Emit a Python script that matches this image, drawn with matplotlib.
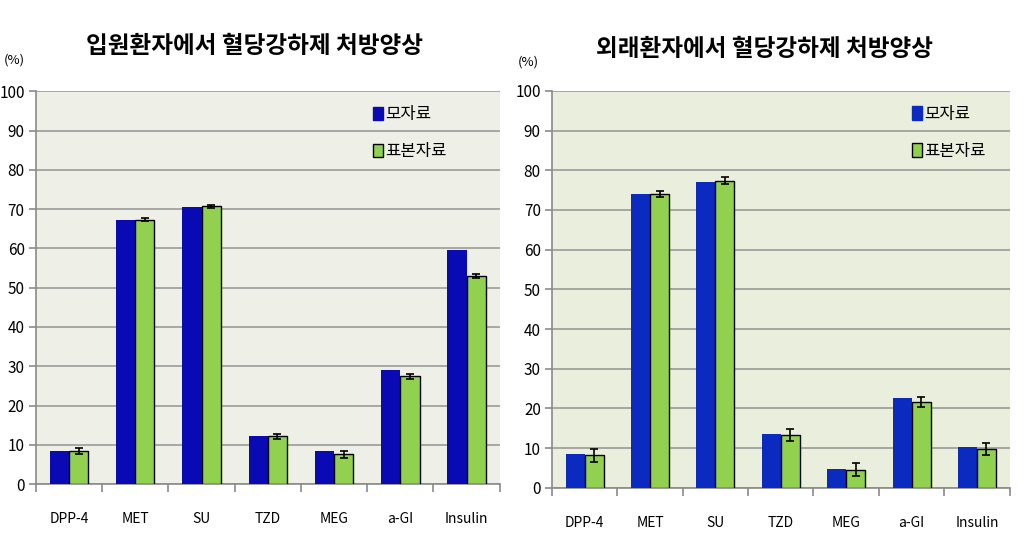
import numpy as np
import matplotlib
matplotlib.use("Agg")
import matplotlib.pyplot as plt
from matplotlib.patches import Patch

plt.rcParams['font.family'] = ['Noto Sans CJK KR', 'DejaVu Sans']

categories = ["DPP-4", "MET", "SU", "TZD", "MEG", "a-GI", "Insulin"]
series_names = ["모자료", "표본자료"]

# 입원환자
in_pop = [8.4, 67.2, 70.6, 12.2, 8.4, 29.1, 59.6]
in_sample = [8.4, 67.3, 70.7, 12.2, 7.6, 27.4, 53.0]
in_err = [0.7, 0.4, 0.4, 0.6, 0.9, 0.7, 0.5]

# 외래환자
out_pop = [8.6, 73.9, 77.1, 13.5, 4.7, 22.6, 10.4]
out_sample = [8.2, 74.0, 77.4, 13.4, 4.6, 21.7, 9.9]
out_err = [1.6, 0.8, 0.8, 1.5, 1.7, 1.3, 1.5]

titles = ["입원환자에서 혈당강하제 처방양상", "외래환자에서 혈당강하제 처방양상"]

green = "#92D050"


def draw_panel(ax, pop, sample, err, bg, blue, leg_x):
    x = np.arange(len(categories))
    w = 0.29
    ax.set_facecolor(bg)
    ax.bar(x - w / 2, pop, w, color=blue, zorder=3)
    ax.bar(x + w / 2, sample, w, color=green, edgecolor="black", linewidth=1.0, zorder=3)
    ax.errorbar(x + w / 2, sample, yerr=err, fmt="none", ecolor="black",
                elinewidth=1.2, capsize=3, capthick=1.2, zorder=4)
    ax.set_ylim(0, 100)
    ax.set_xlim(-0.5, len(categories) - 0.5)
    ax.set_yticks(range(0, 101, 10))
    ax.yaxis.grid(True, color="#9a9a9a", linewidth=1.2, zorder=0)
    ax.set_xticks(x)
    ax.set_xticklabels(categories, fontsize=10)
    ax.set_xticks(np.arange(-0.5, len(categories), 1), minor=True)
    ax.tick_params(axis="x", which="major", length=0, pad=20)
    ax.tick_params(axis="x", which="minor", length=6, color="#8a8a8a", width=1.2)
    ax.tick_params(axis="y", length=5, color="#8a8a8a", width=1.2, labelsize=11, pad=3)
    for s in ["top", "right"]:
        ax.spines[s].set_visible(False)
    for s in ["left", "bottom"]:
        ax.spines[s].set_color("#8a8a8a")
        ax.spines[s].set_linewidth(1.2)
    handles = [Patch(facecolor=blue, edgecolor=blue), Patch(facecolor=green, edgecolor="black")]
    ax.legend(handles, series_names, loc="upper left", bbox_to_anchor=(leg_x, 0.962),
              frameon=False, fontsize=12, handlelength=0.6, handleheight=0.9,
              handletextpad=0.15, labelspacing=1.2, borderpad=0, borderaxespad=0)


fig = plt.figure(figsize=(10.24, 5.47), dpi=100)
fig.patch.set_facecolor("white")

ax1 = fig.add_axes([0.035, 0.115, 0.453, 0.718])
draw_panel(ax1, in_pop, in_sample, in_err, "#EEF0E8", "#0A0AB4", 0.726)
ax2 = fig.add_axes([0.539, 0.108, 0.447, 0.726])
draw_panel(ax2, out_pop, out_sample, out_err, "#E9EEDD", "#0A2AC0", 0.786)

fig.text(0.249, 0.915, titles[0], ha="center", va="center", fontsize=17, fontweight="bold")
fig.text(0.747, 0.91, titles[1], ha="center", va="center", fontsize=17, fontweight="bold")
fig.text(0.014, 0.89, "(%)", ha="center", va="center", fontsize=9.5)
fig.text(0.516, 0.886, "(%)", ha="center", va="center", fontsize=9.5)

fig.savefig("out.png", dpi=100)
